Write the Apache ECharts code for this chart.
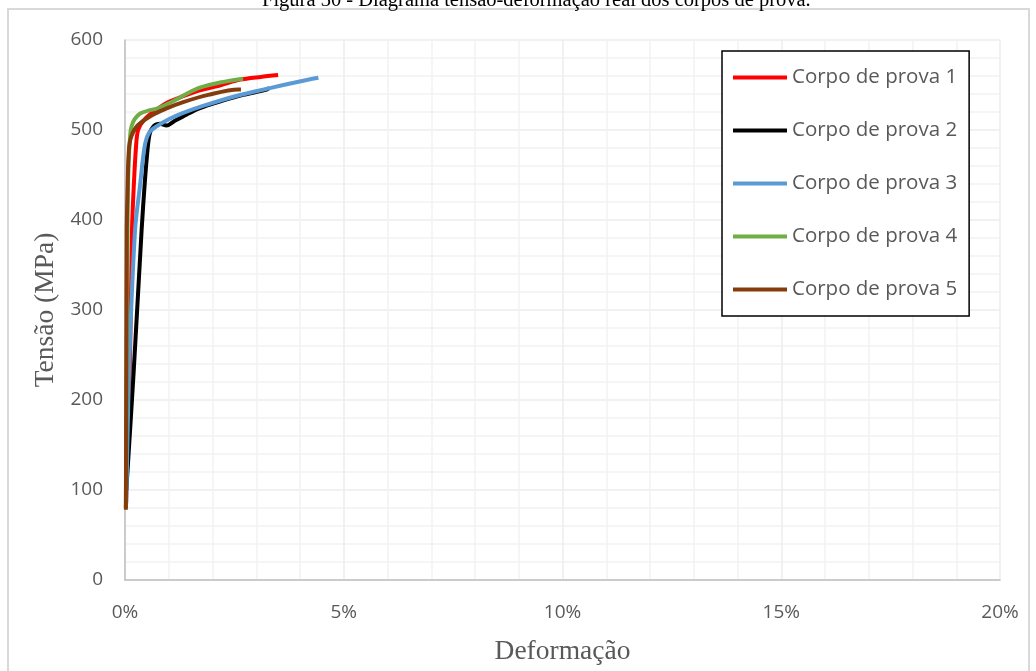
<!DOCTYPE html>
<html>
<head>
<meta charset="utf-8">
<script src="https://cdn.jsdelivr.net/npm/echarts@6/dist/echarts.min.js"></script>
<style>html,body{margin:0;padding:0;background:#fff}#c{width:1036px;height:671px}</style>
</head>
<body>
<div id="c"></div>
<script>
// Strain in %, stress in MPa
const seriesNames = ['Corpo de prova 1','Corpo de prova 2','Corpo de prova 3','Corpo de prova 4','Corpo de prova 5'];
const cp1 = [[0.02,80],[0.11,233],[0.16,389],[0.2,437],[0.25,480],[0.3,500],[0.45,512],[0.7,522],[0.95,530],[1.3,537],[1.71,544],[2.2,550],[2.63,556],[3.1,559],[3.5,561]];
const cp2 = [[0.03,100],[0.2,233],[0.38,389],[0.45,440],[0.5,470],[0.56,495],[0.65,504],[0.8,507],[0.95,505],[1.1,509],[1.4,517],[1.7,524],[2.2,532],[2.7,539],[3.24,545],[3.3,547]];
const cp3 = [[0.03,85],[0.1,244],[0.23,389],[0.34,437],[0.45,482],[0.55,497],[0.72,504],[1.0,512],[1.33,519],[1.8,527],[2.48,537],[3.0,543],[3.62,550],[4.1,555],[4.42,558]];
const cp4 = [[0.02,80],[0.04,250],[0.06,400],[0.08,460],[0.12,495],[0.15,504],[0.22,512],[0.34,518],[0.57,522],[0.75,524],[0.88,527],[1.1,532],[1.4,540],[1.71,547],[2.2,553],[2.7,557]];
const cp5 = [[0.02,78],[0.03,240],[0.04,389],[0.06,437],[0.08,470],[0.12,489],[0.27,504],[0.57,515],[0.95,524],[1.33,531],[1.9,539],[2.59,545],[2.65,545]];
const colors = ['#ff0000','#000000','#5b9bd5','#70ad47','#843c0c'];
const xTicks = [0,5,10,15,20];
const yTicks = [0,100,200,300,400,500,600];

const data = [cp1,cp2,cp3,cp4,cp5];
const chart = echarts.init(document.getElementById('c'), null, {renderer:'canvas'});
const labelFont = '"Open Sans", "Noto Sans", sans-serif';
const serif = '"Liberation Serif", "Times New Roman", serif';
chart.setOption({
  animation:false,
  title:{text:'Figura 30 - Diagrama tensão-deformação real dos corpos de prova.', left:257, top:-15,
    textStyle:{fontFamily:serif, fontSize:20.5, fontWeight:'normal', color:'#000'}},
  graphic:[{type:'rect', shape:{x:8,y:9,width:1021,height:700}, style:{fill:'none', stroke:'#d9d9d9', lineWidth:2}, silent:true, z:-10}],
  grid:{left:125, right:36, top:40, bottom:91},
  legend:{orient:'vertical', left:722, top:51,
    backgroundColor:'#fff', borderColor:'#000', borderWidth:1.5,
    padding:[16,12,16,11], itemGap:32, itemWidth:54, itemHeight:4, icon:'rect',
    textStyle:{fontFamily:labelFont, fontSize:20.5, color:'#595959'},
    data:seriesNames},
  xAxis:{type:'value', min:0, max:20, interval:5,
    name:'Deformação', nameLocation:'middle', nameGap:58,
    nameTextStyle:{fontFamily:serif, fontSize:27.5, color:'#595959'},
    axisLine:{show:true, lineStyle:{color:'#bfbfbf', width:1.5}},
    axisTick:{show:false},
    axisLabel:{margin:23, fontFamily:labelFont, fontSize:19, color:'#595959',
      formatter:v=> xTicks.includes(v) ? v+'%' : ''},
    splitLine:{show:true, lineStyle:{color:'#ececec', width:1.5}},
    minorTick:{show:false, splitNumber:5},
    minorSplitLine:{show:true, lineStyle:{color:'#f2f2f2', width:1.5}}},
  yAxis:{type:'value', min:0, max:600, interval:100,
    name:'Tensão (MPa)', nameLocation:'middle', nameGap:64,
    nameTextStyle:{fontFamily:serif, fontSize:27.5, color:'#595959'},
    axisLine:{show:true, lineStyle:{color:'#bfbfbf', width:1.5}},
    axisTick:{show:false},
    axisLabel:{margin:22, fontFamily:labelFont, fontSize:19, color:'#595959',
      formatter:v=> yTicks.includes(v) ? String(v) : ''},
    splitLine:{show:true, lineStyle:{color:'#ececec', width:1.5}},
    minorTick:{show:false, splitNumber:5},
    minorSplitLine:{show:true, lineStyle:{color:'#f2f2f2', width:1.5}}},
  series: data.map((d,i)=>({
    name:seriesNames[i], type:'line', data:d, showSymbol:false, smooth:0.3,
    lineStyle:{color:colors[i], width:4}, itemStyle:{color:colors[i]}
  }))
});
</script>
</body>
</html>
